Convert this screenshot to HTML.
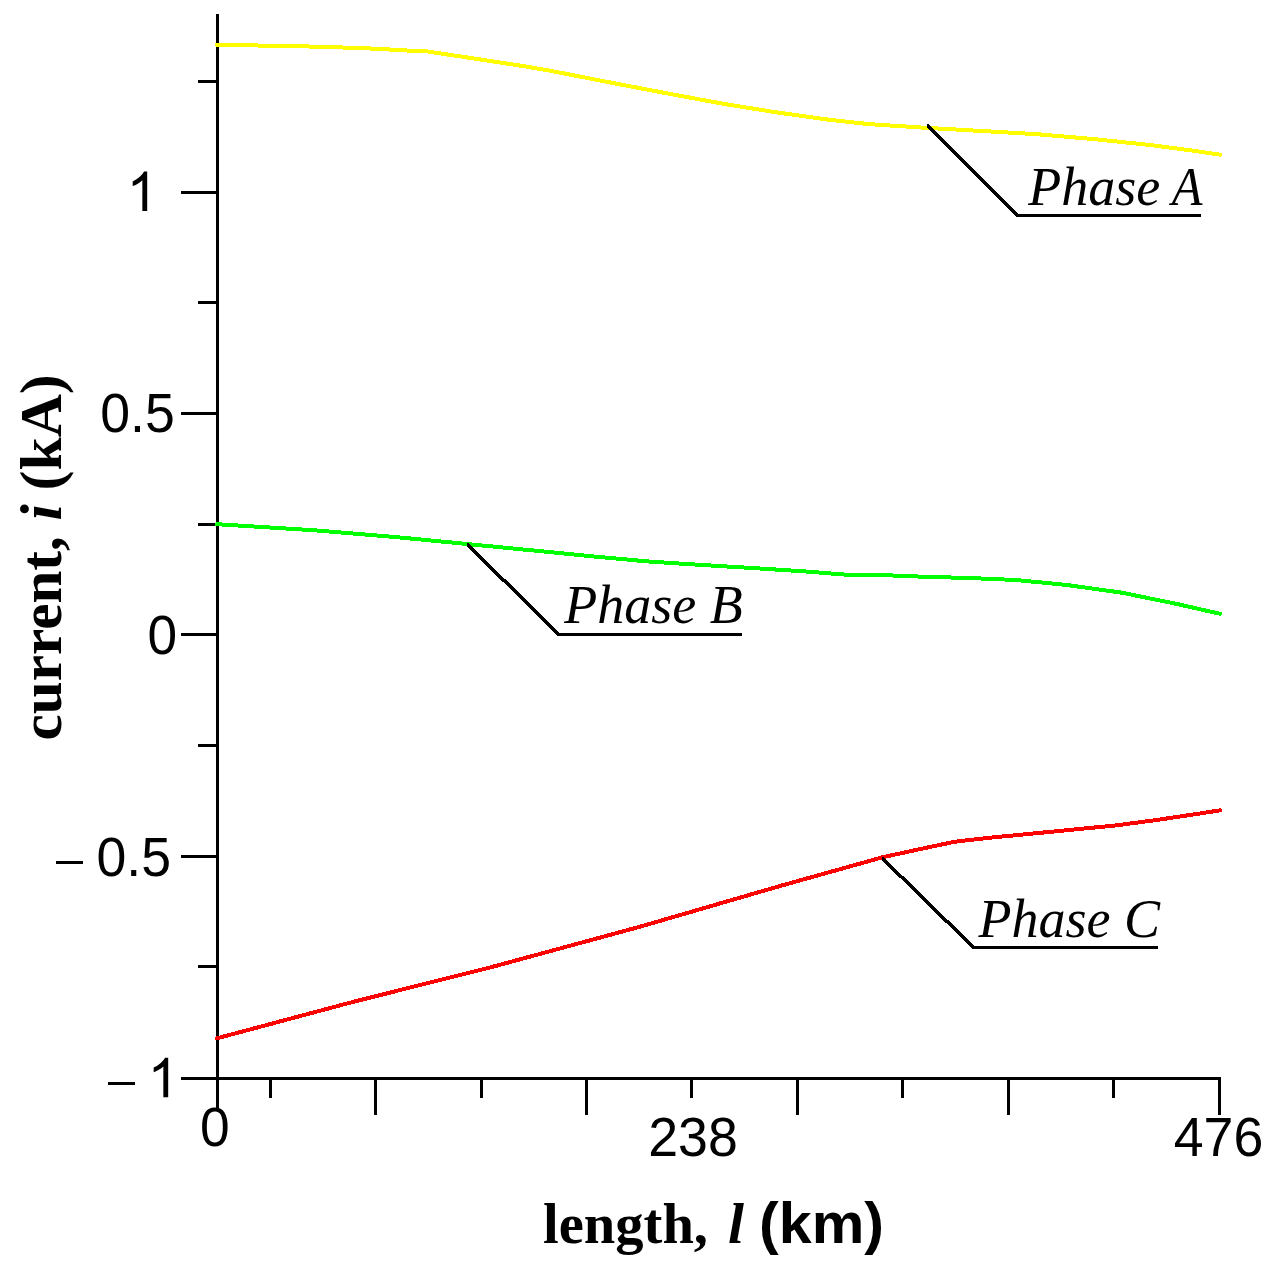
<!DOCTYPE html>
<html><head><meta charset="utf-8">
<style>
html,body{margin:0;padding:0;background:#fff;}
body{width:1284px;height:1275px;overflow:hidden;position:relative;}
svg{position:absolute;left:0;top:0;display:block;}
.tk{font-family:"Liberation Sans",sans-serif;font-size:55px;fill:#000;}
.ph{font-family:"Liberation Serif",serif;font-style:italic;font-size:54px;fill:#000;}
.ax{font-family:"Liberation Serif",serif;font-weight:bold;font-size:58px;fill:#000;}
.axs{font-family:"Liberation Sans",sans-serif;font-weight:bold;font-size:52px;fill:#000;}
</style></head>
<body>
<svg width="1284" height="1275" viewBox="0 0 1284 1275">
<rect width="1284" height="1275" fill="#fff"/>
<!-- axes + ticks -->
<g fill="#000" shape-rendering="crispEdges">
<rect x="216" y="14" width="3" height="1094"/>
<rect x="181" y="1077" width="1040" height="3"/>
<!-- y major -->
<rect x="181" y="191" width="36" height="3"/>
<rect x="181" y="412" width="36" height="3"/>
<rect x="181" y="633" width="36" height="3"/>
<rect x="181" y="855" width="36" height="3"/>
<!-- y minor -->
<rect x="198" y="80" width="18" height="3"/>
<rect x="198" y="301" width="18" height="3"/>
<rect x="198" y="523" width="18" height="3"/>
<rect x="198" y="744" width="18" height="3"/>
<rect x="198" y="965" width="18" height="3"/>
<!-- x ticks -->
<rect x="269" y="1078" width="3" height="20"/>
<rect x="374" y="1078" width="3" height="37"/>
<rect x="480" y="1078" width="3" height="20"/>
<rect x="585" y="1078" width="3" height="37"/>
<rect x="690" y="1078" width="3" height="20"/>
<rect x="796" y="1078" width="3" height="37"/>
<rect x="901" y="1078" width="3" height="20"/>
<rect x="1007" y="1078" width="3" height="37"/>
<rect x="1112" y="1078" width="3" height="20"/>
<rect x="1218" y="1078" width="3" height="37"/>
<!-- minus signs -->
<rect x="56" y="861" width="27" height="3"/>
<rect x="108" y="1081.5" width="27" height="3"/>
</g>
<!-- curves -->
<g fill="none" stroke-width="4" stroke-linejoin="round" stroke-linecap="round" shape-rendering="crispEdges">
<polyline id="ya" stroke="#ffff00" points="217,45.0 265,45.6 318,46.7 346,47.6 373,48.6 393,49.7 409,50.6 427,51.4 470,57.9 524,66.2 550,70.7 619,84.2 672,94.3 725,104.1 778,112.6 831,120.0 870,124.2 926,127.8 982,131.0 1038,134.3 1094,139.1 1150,145.0 1192,150.5 1220,154.7"/>
<polyline id="gb" stroke="#00ff00" points="217,524.2 316,530.4 395,537.0 468,544.1 550,552.1 593,556.4 646,561.3 699,564.8 752,568.0 805,571.4 845,574.6 880,575.0 920,576.6 974,578.2 1016,580.0 1066,584.9 1122,592.7 1178,604.2 1220,613.8"/>
<polyline id="rc" stroke="#ff0000" points="217,1038.3 350,1002.7 420,985.0 490,967.5 640,926.7 780,886.0 850,866.4 882,857.4 920,849.1 955,841.7 990,837.7 1025,834.3 1060,830.9 1116,825.4 1158,819.8 1200,813.5 1220,810.3"/>
</g>
<!-- leaders -->
<g fill="#000" shape-rendering="crispEdges">
<polygon points="927,124 928.6,124 1018.6,214 1018.6,217 1016.6,217 927,127.4"/>
<polygon points="467,543 468.6,543 559.6,633 559.6,636 557.6,636 467,546.4"/>
<polygon points="882,857 883.6,857 974.6,946 974.6,949 972.6,949 882,860.4"/>
<rect x="1017" y="214" width="184" height="3"/>
<rect x="558" y="633" width="184" height="3"/>
<rect x="973" y="946" width="185" height="3"/>
</g>
<!-- tick labels -->
<path d="M763 0H583V1147Q518 1085 412.500 1023Q307 961 223 930V1104Q374 1175 487 1276Q600 1377 647 1472H763Z" transform="translate(126.7,211.1) scale(0.026855,-0.026855)"/>
<path d="M763 0H583V1147Q518 1085 412.500 1023Q307 961 223 930V1104Q374 1175 487 1276Q600 1377 647 1472H763Z" transform="translate(147.7,1097.2) scale(0.026855,-0.026855)"/>
<g class="tk">
<text x="174.7" y="432.3" text-anchor="end" textLength="74.5" lengthAdjust="spacingAndGlyphs">0.5</text>
<text x="177.1" y="653.5" text-anchor="end" textLength="29.6" lengthAdjust="spacingAndGlyphs">0</text>
<text x="171" y="876" text-anchor="end" textLength="74.5" lengthAdjust="spacingAndGlyphs">0.5</text>
<text x="214.8" y="1145.6" text-anchor="middle" textLength="29.7" lengthAdjust="spacingAndGlyphs">0</text>
<text x="693" y="1156" text-anchor="middle" textLength="89.5" lengthAdjust="spacingAndGlyphs">238</text>
<text x="1218.5" y="1156" text-anchor="middle" textLength="89.5" lengthAdjust="spacingAndGlyphs">476</text>
</g>
<!-- phase labels -->
<g class="ph">
<text x="1028.3" y="204.5">Phase</text>
<text transform="translate(1171.7,204.5) scale(0.93,1)" x="0" y="0">A</text>
<text x="564.3" y="622.5">Phase B</text>
<text x="978.6" y="936.6">Phase C</text>
</g>
<!-- axis labels -->
<text class="ax" x="543" y="1243" textLength="165" lengthAdjust="spacingAndGlyphs" style="font-size:57.5px">length,</text>
<text class="ax" x="728" y="1243" style="font-size:57.5px;font-style:italic">l</text>
<text class="axs" x="759" y="1243" textLength="125" lengthAdjust="spacingAndGlyphs" style="font-size:58px">(km)</text>
<text class="ax" transform="translate(60.7,740.5) rotate(-90)" style="font-size:59.2px">current,</text>
<text class="ax" transform="translate(60.7,520.6) rotate(-90)" style="font-size:58.5px;font-style:italic">i</text>
<text class="ax" transform="translate(60.7,490.4) rotate(-90)" style="font-size:58.5px" textLength="116" lengthAdjust="spacingAndGlyphs">(kA)</text>
</svg>
</body></html>
